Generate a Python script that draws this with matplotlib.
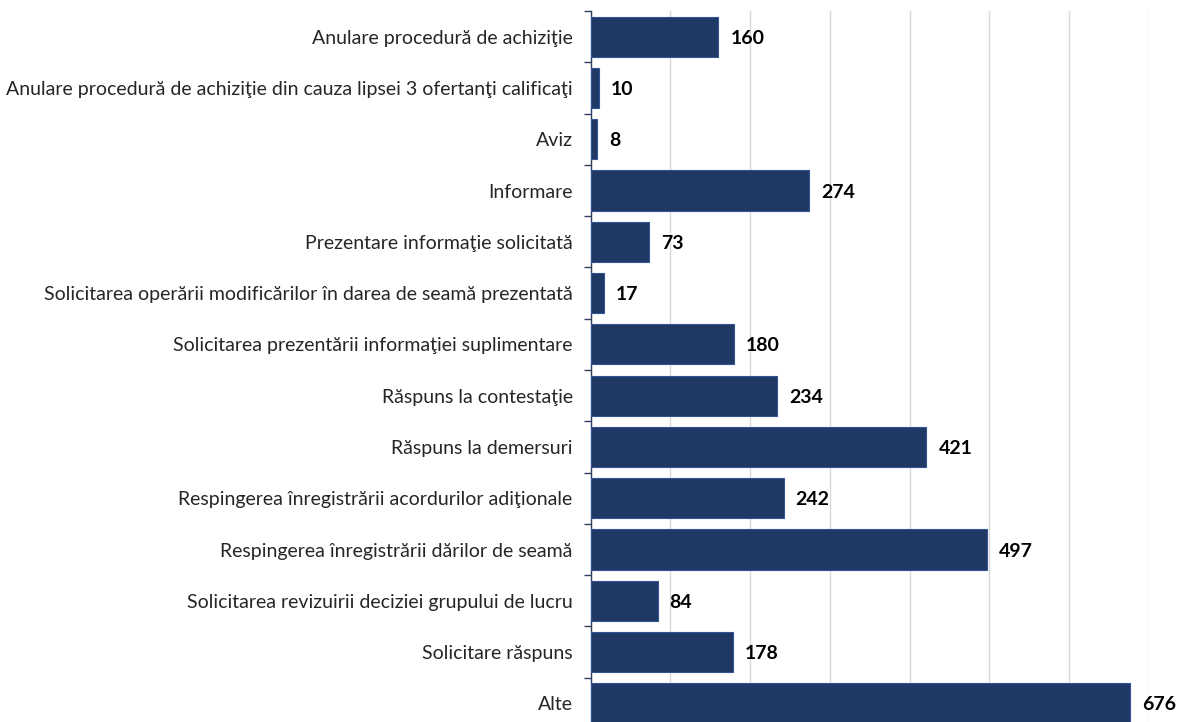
import matplotlib
matplotlib.use('Agg')
import matplotlib.pyplot as plt

categories = [
    "Anulare procedură de achiziţie",
    "Anulare procedură de achiziţie din cauza lipsei 3 ofertanţi calificaţi",
    "Aviz",
    "Informare",
    "Prezentare informaţie solicitată",
    "Solicitarea operării modificărilor în darea de seamă prezentată",
    "Solicitarea prezentării informaţiei suplimentare",
    "Răspuns la contestaţie",
    "Răspuns la demersuri",
    "Respingerea înregistrării acordurilor adiţionale",
    "Respingerea înregistrării dărilor de seamă",
    "Solicitarea revizuirii deciziei grupului de lucru",
    "Solicitare răspuns",
    "Alte",
]
values = [160, 10, 8, 274, 73, 17, 180, 234, 421, 242, 497, 84, 178, 676]

plt.rcParams['font.family'] = ['Lato', 'DejaVu Sans']

fig = plt.figure(figsize=(11.79, 7.22), dpi=100)
# axes extend past the bottom edge (the last bar is cut off in the original)
ax = fig.add_axes([590.7 / 1179, (722 - 729) / 722, (1149 - 590.7) / 1179, (729 - 11) / 722])

pos = list(range(len(categories)))
ax.barh(pos, values, height=0.78, color='#203864', edgecolor='#2F5597', linewidth=0.8, zorder=3)
for p, v in zip(pos, values):
    ax.text(v + 15, p + 0.03, str(v), va='center', ha='left', fontsize=14,
            fontweight='bold', color='black', clip_on=False)

ax.set_ylim(len(categories) - 0.5, -0.5)
ax.set_xlim(0, 700)
ax.set_xticks(range(0, 701, 100))
ax.set_xticklabels([])
ax.tick_params(axis='x', length=0)
ax.grid(axis='x', color='#D9D9D9', linewidth=1, zorder=0)

ax.set_yticks(pos)
ax.set_yticklabels(categories, fontsize=14, color='#262626')
ax.set_yticks([p - 0.5 for p in pos] + [len(pos) - 0.5], minor=True)
ax.tick_params(axis='y', which='major', length=0, pad=13)
ax.tick_params(axis='y', which='minor', length=5, color='#2F3E5C', width=1)

for s in ['top', 'right', 'bottom']:
    ax.spines[s].set_visible(False)
ax.spines['left'].set_color('#2F3E5C')
ax.spines['left'].set_linewidth(1)

fig.savefig('out.png', dpi=100)
